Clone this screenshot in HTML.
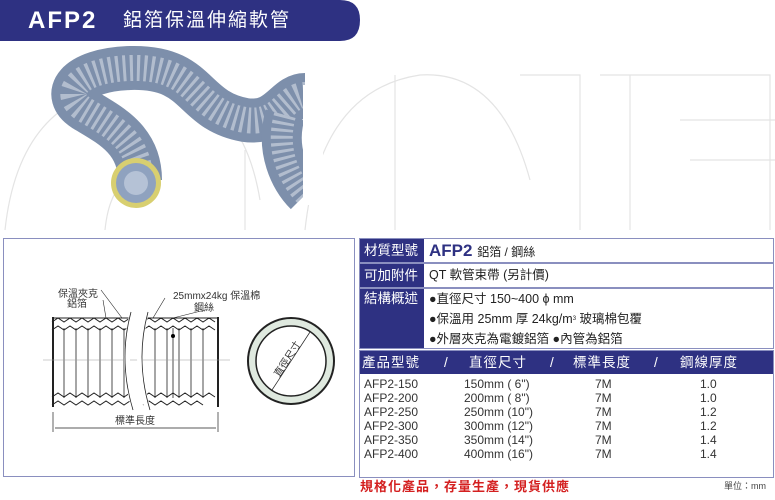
<!DOCTYPE html>
<html><head><meta charset="utf-8"><style>
body{margin:0;width:775px;height:500px;background:#fff;position:relative;overflow:hidden;font-family:"Liberation Sans","Noto Sans CJK TC",sans-serif;line-height:1.15;}
.a{position:absolute;white-space:nowrap;}
.nav{background:#2e3182;color:#fff;}
.row{position:absolute;left:359px;width:413px;border:1px solid #8a8fbf;background:#fff;}
.lab{position:absolute;left:0;top:0;bottom:0;width:64px;background:#2e3182;color:#fff;font-size:13.5px;padding-left:4px;box-sizing:border-box;}
.d{font-size:12px;color:#333;line-height:14px;}
.h{color:#fff;font-size:13.5px;letter-spacing:1px;top:0;line-height:23px;}
</style></head><body>
<svg class="a" style="left:0;top:0" width="775" height="500">
<g fill="none" stroke="#e4e4e4" stroke-width="1.2">
<path d="M5 230 Q20 90 140 85 Q240 80 260 200"/><path d="M105 230 Q110 180 140 175"/>
<path d="M245 230 V150 M305 230 Q320 90 420 75 Q500 70 530 180"/>
<path d="M395 75 V230 M520 75 H580 V230 M600 75 H770 V230 M630 75 V230"/>
<path d="M680 120 H775 M690 160 H775"/>
</g>
<path d="M0 0 H340 Q360 0 360 20 Q360 41 340 41 H0Z" fill="#2e3182"/>
<g fill="none" stroke-linecap="butt">
<path d="M140 180 C140 140 110 125 85 110 C60 95 75 70 130 68 C200 66 190 110 245 120 C280 125 285 95 305 95" stroke="#7d8fab" stroke-width="44"/>
<path d="M140 180 C140 140 110 125 85 110 C60 95 75 70 130 68 C200 66 190 110 245 120 C280 125 285 95 305 95" stroke="#d5dce6" stroke-width="26" stroke-dasharray="3 4" opacity=".6"/>
<path d="M285 115 C275 150 290 180 305 195" stroke="#7d8fab" stroke-width="40"/>
<path d="M285 115 C275 150 290 180 305 195" stroke="#d5dce6" stroke-width="22" stroke-dasharray="3 4" opacity=".6"/>
</g>
<rect x="303" y="85" width="20" height="120" fill="#fff"/>
<ellipse cx="136" cy="183" rx="25" ry="25" fill="#d8cf70"/>
<ellipse cx="136" cy="183" rx="20" ry="20" fill="#8fa2bf"/>
<ellipse cx="136" cy="183" rx="12" ry="12" fill="#b5c2d6"/>
<rect x="3.5" y="238.5" width="351" height="238" fill="#fff" stroke="#8a8fbf"/>
<g stroke="#222" fill="none">
<path d="M52 318 L130 318 M143 318 L218 318" stroke-width="1"/>
<path d="M52 322 l6-4 6 4 6-4 6 4 6-4 6 4 6-4 6 4 6-4 6 4 6-4 6 4 6-4 M143 322 l6-4 6 4 6-4 6 4 6-4 6 4 6-4 6 4 6-4 6 4 6-4 6 4" />
<path d="M52 330 l6-4 6 4 6-4 6 4 6-4 6 4 6-4 6 4 6-4 6 4 6-4 6 4 6-4 M143 330 l6-4 6 4 6-4 6 4 6-4 6 4 6-4 6 4 6-4 6 4 6-4 6 4" />
<path d="M52 397 l6-4 6 4 6-4 6 4 6-4 6 4 6-4 6 4 6-4 6 4 6-4 6 4 6-4 M143 397 l6-4 6 4 6-4 6 4 6-4 6 4 6-4 6 4 6-4 6 4 6-4 6 4" />
<path d="M52 405 l6-4 6 4 6-4 6 4 6-4 6 4 6-4 6 4 6-4 6 4 6-4 6 4 6-4 M143 405 l6-4 6 4 6-4 6 4 6-4 6 4 6-4 6 4 6-4 6 4" />
<path d="M53 317 V407 M218 317 V407" stroke-width="2"/>
<path d="M64 328 V398 M76 328 V398 M88 328 V398 M100 328 V398 M112 328 V398 M124 328 V398 M155 328 V398 M167 328 V398 M179 328 V398 M191 328 V398 M203 328 V398 M173 328V398" stroke-width=".8"/>
<path d="M43 360 H230" stroke="#999" stroke-width=".6"/>
<path d="M133 312 Q120 360 135 410 M146 312 Q133 360 148 410" stroke="#fff" stroke-width="6"/>
<path d="M131 312 Q118 360 133 410 M148 312 Q135 360 150 410" stroke-width=".8"/>
<circle cx="291" cy="361" r="43" stroke-width="2" fill="#dfe9df"/>
<circle cx="291" cy="361" r="35" stroke-width="1.5" fill="#fff"/>
<path d="M272 390 L310 332" stroke-width=".7"/>
<path d="M53 412 V432 M218 412 V432 M55 428 H216" stroke-width=".7"/>
<path d="M101 290 L122 318 M103 300 L106 318 M165 298 L153 318 M205 310 L173 318" stroke-width=".6"/>
</g>
<circle cx="173" cy="336" r="2" fill="#000"/>
</svg>
<div class="a" style="left:28px;top:8px;color:#fff;font-size:24px;font-weight:bold;letter-spacing:2px;line-height:26px">AFP2</div>
<div class="a" style="left:123px;top:10px;color:#fff;font-size:19px;letter-spacing:2px;line-height:22px">鋁箔保溫伸縮軟管</div>
<div class="a" style="left:58px;top:289px;font-size:10px;color:#333;line-height:11px">保溫夾克</div>
<div class="a" style="left:67px;top:299px;font-size:10px;color:#333;line-height:11px">鋁箔</div>
<div class="a" style="left:173px;top:291px;font-size:10px;color:#333;line-height:11px">25mmx24kg 保溫棉</div>
<div class="a" style="left:194px;top:303px;font-size:10px;color:#333;line-height:11px">鋼絲</div>
<div class="a" style="left:115px;top:416px;font-size:10px;color:#333;line-height:11px">標準長度</div>
<div class="a" style="left:268px;top:354px;font-size:10px;color:#333;line-height:11px;transform:rotate(-57deg)">直徑尺寸</div>
<div class="row" style="top:238px;height:23px"><div class="lab" style="line-height:23px">材質型號</div>
<div class="a" style="left:69px;top:0;line-height:23px;font-size:17px;font-weight:bold;color:#2e3182">AFP2 <span style="font-size:12px;font-weight:normal;color:#222">鋁箔 / 鋼絲</span></div></div>
<div class="row" style="top:263px;height:23px"><div class="lab" style="line-height:23px">可加附件</div>
<div class="a" style="left:69px;top:0;line-height:23px;font-size:12.5px;color:#222">QT 軟管束帶 (另計價)</div></div>
<div class="row" style="top:288px;height:59px"><div class="lab" style="line-height:20px">結構概述</div>
<div class="a" style="left:69px;top:0;font-size:12.5px;color:#222;line-height:20px">●直徑尺寸 150~400 ϕ mm<br>●保溫用 25mm 厚 24kg/m<span style="font-size:6px;vertical-align:top">3</span> 玻璃棉包覆<br>●外層夾克為電鍍鋁箔 ●內管為鋁箔</div></div>
<div class="row" style="top:350px;height:126px">
<div class="a nav" style="left:0;top:0;width:413px;height:23px"></div>
<div class="a h" style="left:2px">產品型號</div>
<div class="a h" style="left:84px">/</div>
<div class="a h" style="left:109px">直徑尺寸</div>
<div class="a h" style="left:190px">/</div>
<div class="a h" style="left:213px">標準長度</div>
<div class="a h" style="left:294px">/</div>
<div class="a h" style="left:320px">鋼線厚度</div>
<div class="a d" style="left:4px;top:26px">AFP2-150<br>AFP2-200<br>AFP2-250<br>AFP2-300<br>AFP2-350<br>AFP2-400</div>
<div class="a d" style="left:104px;top:26px">150mm ( 6")<br>200mm ( 8")<br>250mm (10")<br>300mm (12")<br>350mm (14")<br>400mm (16")</div>
<div class="a d" style="left:235px;top:26px">7M<br>7M<br>7M<br>7M<br>7M<br>7M</div>
<div class="a d" style="left:340px;top:26px">1.0<br>1.0<br>1.2<br>1.2<br>1.4<br>1.4</div>
</div>
<div class="a" style="left:360px;top:479px;color:#d42020;font-size:13px;font-weight:bold;letter-spacing:1px;line-height:16px">規格化產品，存量生產，現貨供應</div>
<div class="a" style="left:724px;top:481px;color:#444;font-size:9px;line-height:11px">單位：mm</div>
</body></html>
